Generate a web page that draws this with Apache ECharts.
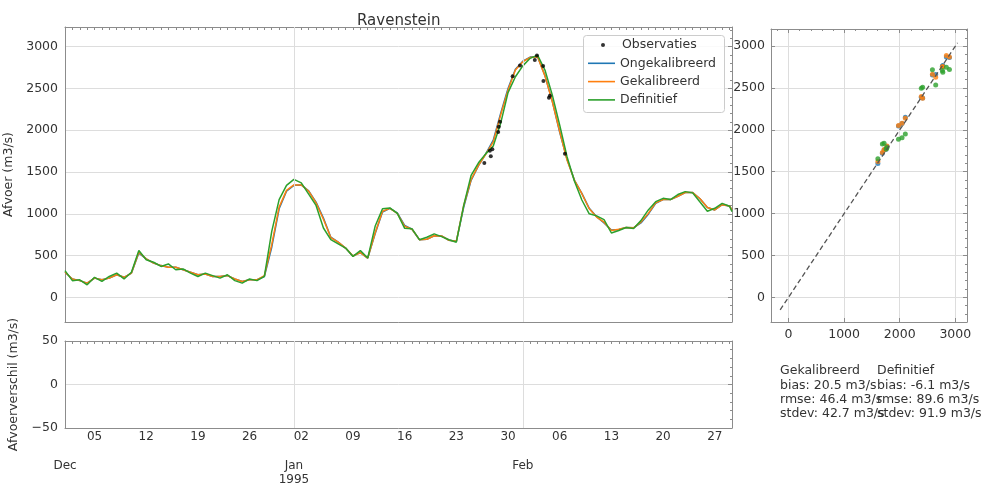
<!DOCTYPE html>
<html>
<head>
<meta charset="utf-8">
<title>Ravenstein</title>
<script src="https://cdn.jsdelivr.net/npm/echarts@6/dist/echarts.min.js"></script>
<style>
  html, body { margin: 0; padding: 0; background: #fff; }
  #chart { width: 992px; height: 488px; }
</style>
</head>
<body>
<div id="chart"></div>
<script>
var DAG = 86400000;
var startTijd = Date.UTC(1994, 11, 1);
var eindTijd = Date.UTC(1995, 2, 1, 8);

// afvoer (m3/s), een waarde per dag vanaf 1 dec 1994, laatste waarde hoort bij eindTijd
var ongekalibreerd = [
  300, 220, 200, 170, 230, 210, 230, 270, 240, 290,
  530, 460, 410, 380, 360, 360, 330, 300, 270, 280,
  250, 250, 260, 220, 190, 210, 210, 250, 600, 1060,
  1270, 1340, 1345, 1275, 1140, 950, 720, 660, 590, 495,
  535, 470, 760, 1020, 1065, 1010, 860, 815, 690, 695,
  737, 735, 683, 670, 1080, 1400, 1575, 1720, 1880, 2200,
  2500, 2730, 2825, 2875, 2880, 2655, 2345, 1975, 1650, 1400,
  1245, 1065, 965, 890, 805, 812, 835, 832, 890, 995,
  1125, 1170, 1170, 1210, 1255, 1255, 1180, 1075, 1046, 1108,
  1094, 1046
];
var gekalibreerd = [
  300, 220, 200, 170, 230, 210, 230, 270, 240, 290,
  540, 460, 410, 380, 360, 360, 330, 300, 270, 280,
  250, 250, 260, 220, 190, 210, 210, 260, 630, 1080,
  1280, 1345, 1345, 1270, 1130, 935, 715, 660, 590, 495,
  535, 470, 770, 1030, 1065, 1006, 850, 815, 690, 695,
  737, 735, 683, 670, 1100, 1410, 1580, 1713, 1860, 2181,
  2480, 2720, 2820, 2870, 2880, 2650, 2340, 1985, 1640, 1400,
  1240, 1060, 960, 900, 800, 815, 835, 832, 900, 1005,
  1130, 1170, 1170, 1210, 1255, 1255, 1180, 1075, 1046, 1108,
  1094, 1046
];
var definitief = [
  320, 200, 210, 150, 240, 190, 250, 290, 220, 300,
  560, 450, 420, 370, 400, 330, 340, 290, 250, 290,
  260, 230, 270, 200, 170, 220, 200, 250, 790, 1170,
  1340, 1412, 1370, 1235, 1100, 830, 690, 640, 590, 490,
  559, 470, 850, 1060, 1070, 1006, 826, 820, 690, 719,
  759, 727, 690, 660, 1100, 1460, 1610, 1720, 1810, 2082,
  2450, 2640, 2770, 2860, 2898, 2720, 2420, 2060, 1680, 1390,
  1165, 1000, 975, 930, 770, 800, 835, 825, 918, 1046,
  1145, 1185, 1170, 1230, 1265, 1250, 1140, 1030, 1066, 1125,
  1090, 1026
];

// metingen
var obsTijden = [
  '1995-01-26T19:00Z', '1995-01-27T16:00Z', '1995-01-27T13:00Z', '1995-01-27T21:00Z',
  '1995-01-28T16:00Z', '1995-01-28T18:00Z', '1995-01-28T22:00Z', '1995-01-30T15:00Z',
  '1995-01-31T15:00Z', '1995-02-02T15:00Z', '1995-02-02T22:00Z', '1995-02-03T18:00Z',
  '1995-02-03T19:00Z', '1995-02-04T13:00Z', '1995-02-04T16:00Z', '1995-02-06T17:00Z'
];
var observaties = [1607, 1688, 1755, 1771, 1978, 2042, 2101, 2647, 2775, 2839, 2894, 2767, 2588, 2388, 2412, 1719];
// modelwaarden op de meettijden (spreidingsdiagram)
var ongekalObs = [1598, 1720, 1770, 1800, 2045, 2075, 2150, 2660, 2770, 2870, 2865, 2760, 2655, 2390, 2380, 1760];
var gekalObs = [1621, 1730, 1776, 1808, 2051, 2080, 2139, 2629, 2756, 2888, 2870, 2750, 2665, 2398, 2378, 1765];
var defObs = [1655, 1832, 1772, 1788, 1888, 1907, 1952, 2537, 2689, 2749, 2720, 2710, 2717, 2498, 2510, 1840];

var maandGrenzen = ['1995-01-01T00:00Z', '1995-02-01T00:00Z'];
var maandLabels = { '1994-12-01': 'Dec', '1995-01-01': 'Jan\n1995', '1995-02-01': 'Feb' };
var lijn11 = [-150, 3040];
var statsGek = ['Gekalibreerd', 'bias: 20.5 m3/s', 'rmse: 46.4 m3/s', 'stdev: 42.7 m3/s'];
var statsDef = ['Definitief', 'bias: -6.1 m3/s', 'rmse: 89.6 m3/s', 'stdev: 91.9 m3/s'];

var tijden = [];
for (var i = 0; i < gekalibreerd.length - 1; i++) tijden.push(startTijd + i * DAG);
tijden.push(eindTijd);

function reeks(waarden) {
  return waarden.map(function (v, i) { return [tijden[i], v]; });
}
function paren(model) {
  return observaties.map(function (v, i) { return [v, model[i]]; });
}

var rand = '#8c8c8c';
var raster = '#dddddd';
var tekst = '#333333';
var font = 'DejaVu Sans';

function getal(v) { return v < 0 ? '\u2212' + (-v) : String(v); }
var lijnAs = { show: true, onZero: false, lineStyle: { color: rand } };

function tijdAs(grid, pos, extra) {
  var as = {
    type: 'value', gridIndex: grid, position: pos,
    min: startTijd, max: eindTijd, interval: DAG,
    axisLine: lijnAs,
    axisTick: { show: false },
    axisLabel: { show: false },
    splitLine: { show: false }
  };
  return Object.assign(as, extra || {});
}
var dagTicks = { show: true, inside: true, length: 3, lineStyle: { color: rand } };
var binnenTicks = { show: true, inside: true, length: 4, lineStyle: { color: rand } };
var kleineTicks = { show: true, splitNumber: 5, length: 2, lineStyle: { color: rand } };

var gridLijnen = {
  silent: true, symbol: 'none', label: { show: false },
  lineStyle: { color: raster, type: 'solid', width: 1 },
  data: maandGrenzen.map(function (t) { return { xAxis: Date.parse(t) }; })
};

var legendTekst = { fontFamily: font, fontSize: 12.5, color: tekst, lineHeight: 14 };

var myChart = echarts.init(document.getElementById('chart'));
var option = {
  animation: false,
  backgroundColor: '#fff',
  textStyle: { fontFamily: font },
  title: {
    text: 'Ravenstein', left: 352, top: 9,
    textStyle: { fontFamily: font, fontSize: 15, fontWeight: 'normal', color: tekst }
  },
  legend: [
    {
      left: 596, top: 35, orient: 'vertical', padding: [3, 9, 0, 5],
      itemWidth: 28, itemHeight: 4, icon: 'circle',
      textStyle: legendTekst,
      data: ['Observaties']
    },
    {
      left: 583, top: 53.3, orient: 'vertical', padding: [3, 9, 5, 5],
      itemWidth: 27, itemHeight: 1.6, itemGap: 4.3, icon: 'rect',
      textStyle: legendTekst,
      data: ['Ongekalibreerd', 'Gekalibreerd', 'Definitief']
    }
  ],
  grid: [
    { left: 65, top: 27, width: 667, height: 295, outerBoundsMode: 'none' },
    { left: 65, top: 341, width: 667, height: 87, outerBoundsMode: 'none' },
    { left: 771, top: 29, width: 196, height: 293, outerBoundsMode: 'none' }
  ],
  xAxis: [
    tijdAs(0, 'bottom'),
    tijdAs(0, 'top', { axisTick: dagTicks }),
    tijdAs(1, 'bottom', {
      axisLabel: {
        show: true, margin: 3, fontSize: 12, color: tekst,
        formatter: function (v) {
          var d = new Date(v);
          if (v % DAG !== 0 || d.getUTCDay() !== 1) return '';
          var n = d.getUTCDate();
          return (n < 10 ? '0' : '') + n;
        }
      }
    }),
    tijdAs(1, 'top', { axisTick: dagTicks }),
    tijdAs(1, 'bottom', {
      offset: 23,
      axisLine: { show: false, onZero: false },
      axisLabel: {
        show: true, margin: 8, fontSize: 12, color: tekst, lineHeight: 14,
        showMinLabel: true,
        formatter: function (v) {
          if (v % DAG !== 0) return '';
          var k = new Date(v).toISOString().slice(0, 10);
          return maandLabels[k] || '';
        }
      }
    }),
    {
      type: 'value', gridIndex: 2, position: 'bottom',
      min: -315, max: 3210, splitNumber: 3,
      axisLine: lijnAs,
      axisTick: binnenTicks,
      axisLabel: { margin: 6, fontSize: 12.5, color: tekst, showMinLabel: false, showMaxLabel: false, formatter: getal },
      splitLine: { show: true, lineStyle: { color: raster } }
    },
    {
      type: 'value', gridIndex: 2, position: 'top',
      min: -315, max: 3210, splitNumber: 3,
      axisLine: lijnAs,
      axisTick: binnenTicks,
      minorTick: kleineTicks,
      axisLabel: { show: false },
      splitLine: { show: false }
    }
  ],
  yAxis: [
    {
      type: 'value', gridIndex: 0, position: 'left',
      min: -295, max: 3235, splitNumber: 7,
      name: 'Afvoer (m3/s)', nameLocation: 'middle', nameGap: 42,
      nameTextStyle: { fontSize: 12.5, color: tekst },
      axisLine: lijnAs,
      axisTick: { show: false },
      axisLabel: { margin: 7, fontSize: 12.5, color: tekst, showMinLabel: false, showMaxLabel: false, formatter: getal },
      splitLine: { show: true, lineStyle: { color: raster } }
    },
    {
      type: 'value', gridIndex: 0, position: 'right',
      min: -295, max: 3235, splitNumber: 7,
      axisLine: lijnAs,
      axisTick: binnenTicks,
      minorTick: kleineTicks,
      axisLabel: { show: false },
      splitLine: { show: false }
    },
    {
      type: 'value', gridIndex: 1, position: 'left',
      min: -50, max: 50, interval: 50,
      name: 'Afvoerverschil (m3/s)', nameLocation: 'middle', nameGap: 39,
      nameTextStyle: { fontSize: 12.5, color: tekst },
      axisLine: lijnAs,
      axisTick: { show: false },
      axisLabel: { margin: 7, fontSize: 12.5, color: tekst, formatter: getal },
      splitLine: { show: true, lineStyle: { color: raster } }
    },
    {
      type: 'value', gridIndex: 1, position: 'right',
      min: -50, max: 50, interval: 50,
      axisLine: lijnAs,
      axisTick: binnenTicks,
      minorTick: kleineTicks,
      axisLabel: { show: false },
      splitLine: { show: false }
    },
    {
      type: 'value', gridIndex: 2, position: 'left',
      min: -295, max: 3205, splitNumber: 7,
      axisLine: lijnAs,
      axisTick: binnenTicks,
      axisLabel: { margin: 6, fontSize: 12.5, color: tekst, showMinLabel: false, showMaxLabel: false, formatter: getal },
      splitLine: { show: true, lineStyle: { color: raster } }
    },
    {
      type: 'value', gridIndex: 2, position: 'right',
      min: -295, max: 3205, splitNumber: 7,
      axisLine: lijnAs,
      axisTick: binnenTicks,
      minorTick: kleineTicks,
      axisLabel: { show: false },
      splitLine: { show: false }
    }
  ],
  series: [
    { name: 'raster0', type: 'line', xAxisIndex: 0, yAxisIndex: 0, data: [], z: 1, markLine: gridLijnen },
    { name: 'raster1', type: 'line', xAxisIndex: 2, yAxisIndex: 2, data: [], z: 1, markLine: gridLijnen },
    {
      name: 'Ongekalibreerd', type: 'line', xAxisIndex: 0, yAxisIndex: 0,
      data: reeks(ongekalibreerd), symbol: 'none', color: '#1f77b4',
      lineStyle: { width: 1.5, color: '#1f77b4' }
    },
    {
      name: 'Gekalibreerd', type: 'line', xAxisIndex: 0, yAxisIndex: 0,
      data: reeks(gekalibreerd), symbol: 'none', color: '#ff7f0e',
      lineStyle: { width: 1.5, color: '#ff7f0e' }
    },
    {
      name: 'Definitief', type: 'line', xAxisIndex: 0, yAxisIndex: 0,
      data: reeks(definitief), symbol: 'none', color: '#2ca02c',
      lineStyle: { width: 1.5, color: '#2ca02c' }
    },
    {
      name: 'Observaties', type: 'scatter', xAxisIndex: 0, yAxisIndex: 0,
      data: observaties.map(function (v, i) { return [Date.parse(obsTijden[i]), v]; }),
      symbolSize: 4, itemStyle: { color: '#000' }, z: 5
    },
    {
      name: '1:1', type: 'line', xAxisIndex: 5, yAxisIndex: 4,
      data: lijn11.map(function (v) { return [v, v]; }), symbol: 'none',
      lineStyle: { color: '#555', width: 1.3, type: [5, 3] }
    },
    {
      name: 'spreiding ongekalibreerd', type: 'scatter', xAxisIndex: 5, yAxisIndex: 4,
      data: paren(ongekalObs), symbolSize: 5, itemStyle: { color: '#1f77b4' }
    },
    {
      name: 'spreiding gekalibreerd', type: 'scatter', xAxisIndex: 5, yAxisIndex: 4,
      data: paren(gekalObs), symbolSize: 5, itemStyle: { color: '#ff7f0e' }
    },
    {
      name: 'spreiding definitief', type: 'scatter', xAxisIndex: 5, yAxisIndex: 4,
      data: paren(defObs), symbolSize: 5, itemStyle: { color: '#2ca02c' }
    }
  ],
  graphic: [
    {
      type: 'rect', left: 583, top: 35, z: 3, silent: true,
      shape: { width: 141, height: 77, r: 3 },
      style: { fill: 'rgba(255,255,255,0.85)', stroke: '#cccccc', lineWidth: 1 }
    },
    {
      type: 'text', left: 780, top: 364,
      style: { text: statsGek.join('\n'), font: '12.5px "DejaVu Sans"', lineHeight: 14.2, fill: tekst }
    },
    {
      type: 'text', left: 877, top: 364,
      style: { text: statsDef.join('\n'), font: '12.5px "DejaVu Sans"', lineHeight: 14.2, fill: tekst }
    }
  ]
};
myChart.setOption(option);
</script>
</body>
</html>
